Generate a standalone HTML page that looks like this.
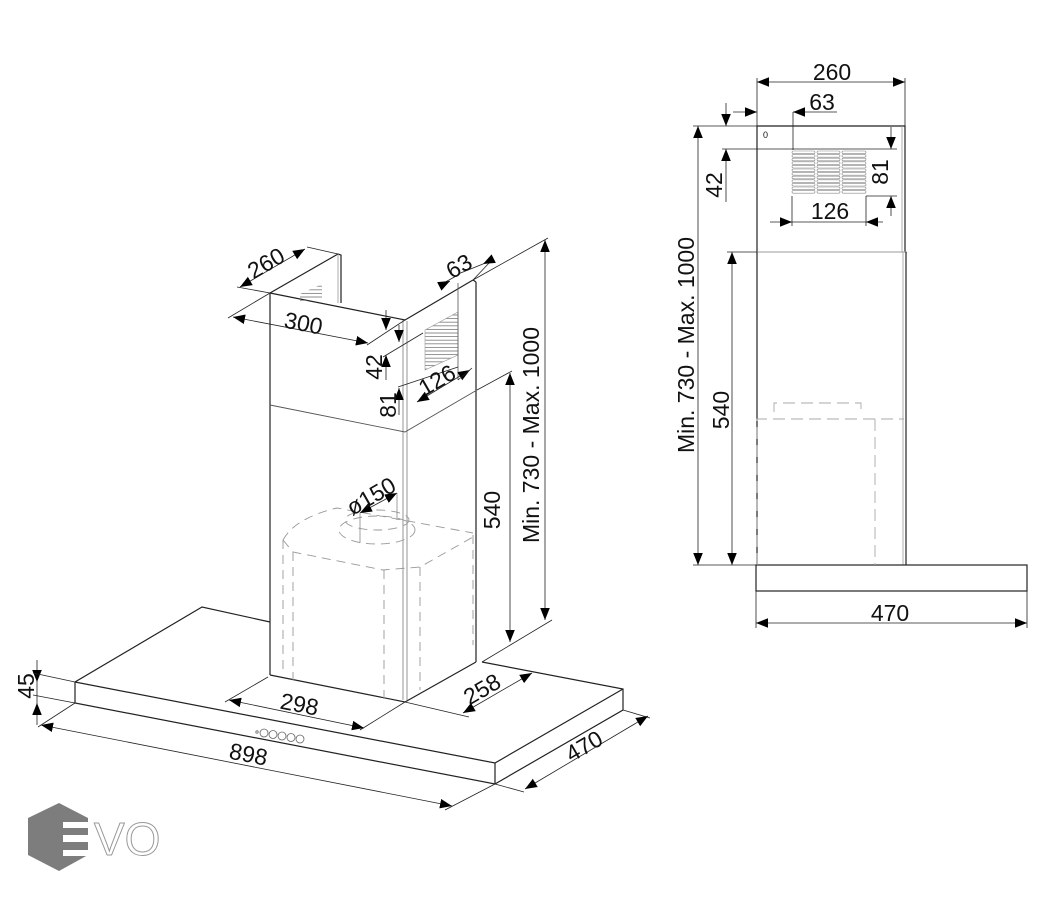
<!DOCTYPE html>
<html><head><meta charset="utf-8"><style>
html,body{margin:0;padding:0;background:#fff;}
svg{display:block}
text{font-family:"Liberation Sans",sans-serif;fill:#111;}
</style></head><body>
<svg width="1054" height="900" viewBox="0 0 1054 900" xmlns="http://www.w3.org/2000/svg">
<defs>
<marker id="a" viewBox="0 0 10 10" refX="10" refY="5" markerWidth="12" markerHeight="12" markerUnits="userSpaceOnUse" orient="auto-start-reverse"><path d="M0,1 L10,5 L0,9 z" fill="#000"/></marker>
<pattern id="g" width="4" height="3.6" patternUnits="userSpaceOnUse"><line x1="0" y1="1.8" x2="4" y2="1.8" stroke="#777" stroke-width="0.8"/></pattern>
</defs>

<g fill="none" stroke="#222" stroke-width="1.2">
<path d="M270,293 L338,254 L341,255 L341,303"/>
<line x1="338" y1="254" x2="338" y2="303" stroke="#999" stroke-width="0.8"/>
<path d="M270,293 L405,320 L473,280"/>
<line x1="473" y1="280" x2="476" y2="282" />
<line x1="270" y1="293" x2="270" y2="675"/>
<line x1="476" y1="282" x2="476" y2="662"/>
<line x1="403" y1="320" x2="403" y2="700" stroke="#888" stroke-width="0.9"/>
<line x1="407" y1="321" x2="407" y2="700" stroke="#888" stroke-width="0.9"/>
<path d="M270,405 L405,432 L477,390" stroke="#555" stroke-width="0.9"/>
<path d="M270,675 L405,702 L476,662"/>
<path d="M270,622 L202,607 L75,682 L75,703 L495,784 L623,710 L623,689 L482,662"/>
<path d="M75,682 L495,763 L623,689"/>
<line x1="495" y1="763" x2="495" y2="784"/>
</g>
<path d="M300,294 L322,284 L322,299 L300,301 z" fill="url(#g)"/>
<path d="M425,330 L458,312 L458,355 L425,370 z" fill="url(#g)" stroke="#999" stroke-width="0.6"/>
<line x1="458" y1="283" x2="458" y2="380" stroke="#555" stroke-width="0.8"/>
<g fill="none" stroke="#666" stroke-width="0.8">
<circle cx="257" cy="732" r="1.2"/><circle cx="264" cy="733" r="4"/><circle cx="273" cy="734.5" r="4"/><circle cx="282" cy="736" r="4"/><circle cx="291" cy="737.5" r="4"/><circle cx="300" cy="739" r="4"/>
</g>
<g fill="none" stroke="#999" stroke-width="0.9" stroke-dasharray="9,6">
<path d="M283,540 L283,672"/><path d="M293,552 L293,680"/><path d="M384,570 L384,700"/><path d="M420,567 L420,690"/><path d="M473,535 L473,645"/>
<path d="M283,540 Q295,518 337,508 L473,533"/>
<path d="M283,540 L293,552 L383,570 L420,567 L473,537"/>
<ellipse cx="377" cy="530" rx="38" ry="14"/>
<ellipse cx="377" cy="520" rx="32" ry="10"/>
</g>
<g stroke="#222" stroke-width="0.8" fill="none">
<line x1="237" y1="287" x2="270" y2="293"/><line x1="307" y1="247" x2="338" y2="254"/>
<line x1="240" y1="287" x2="305" y2="249" marker-start="url(#a)" marker-end="url(#a)"/>
<line x1="228" y1="318" x2="270" y2="293"/><line x1="367" y1="345" x2="405" y2="320"/>
<line x1="233" y1="317" x2="368" y2="343" marker-start="url(#a)" marker-end="url(#a)"/>
<line x1="440" y1="285" x2="458" y2="275" /><line x1="473" y1="280" x2="490" y2="262"/>
<line x1="440" y1="286" x2="450" y2="281" marker-end="url(#a)"/>
<line x1="493" y1="259" x2="483" y2="264" marker-end="url(#a)"/>
<line x1="458" y1="274" x2="483" y2="264"/>
<line x1="386" y1="310" x2="386" y2="330" marker-end="url(#a)"/>
<line x1="386" y1="380" x2="386" y2="355" marker-end="url(#a)"/>
<line x1="383" y1="357" x2="423" y2="333"/>
<line x1="399" y1="325" x2="399" y2="342" marker-end="url(#a)"/>
<line x1="399" y1="415" x2="399" y2="388" marker-end="url(#a)"/>
<line x1="398" y1="387" x2="458" y2="367"/>
<line x1="417" y1="402" x2="470" y2="370" marker-start="url(#a)" marker-end="url(#a)"/>
<line x1="458" y1="380" x2="472" y2="368"/>
<line x1="473" y1="280" x2="548" y2="238"/>
<line x1="545" y1="240" x2="545" y2="620" marker-start="url(#a)" marker-end="url(#a)"/>
<line x1="482" y1="662" x2="552" y2="620"/>
<line x1="477" y1="390" x2="512" y2="371"/>
<line x1="510" y1="373" x2="510" y2="642" marker-start="url(#a)" marker-end="url(#a)"/>
<line x1="360" y1="513" x2="397" y2="493" marker-start="url(#a)" marker-end="url(#a)"/>
<line x1="360" y1="513" x2="360" y2="543" stroke="#888"/>
<line x1="397" y1="493" x2="397" y2="520" stroke="#888"/>
<line x1="268" y1="677" x2="225" y2="702"/><line x1="405" y1="702" x2="360" y2="730"/>
<line x1="229" y1="700" x2="364" y2="728" marker-start="url(#a)" marker-end="url(#a)"/>
<line x1="405" y1="702" x2="469" y2="717"/>
<line x1="532" y1="673" x2="463" y2="713" marker-start="url(#a)" marker-end="url(#a)"/>
<line x1="37" y1="660" x2="37" y2="682" marker-end="url(#a)"/>
<line x1="37" y1="725" x2="37" y2="703" marker-end="url(#a)"/>
<line x1="37" y1="682" x2="37" y2="703"/>
<line x1="33" y1="673" x2="75" y2="682"/><line x1="33" y1="695" x2="75" y2="703"/>
<line x1="75" y1="703" x2="38" y2="727"/><line x1="495" y1="784" x2="445" y2="810"/>
<line x1="41" y1="725" x2="452" y2="806" marker-start="url(#a)" marker-end="url(#a)"/>
<line x1="623" y1="710" x2="650" y2="718"/><line x1="495" y1="784" x2="524" y2="792"/>
<line x1="648" y1="716" x2="525" y2="789" marker-start="url(#a)" marker-end="url(#a)"/>
</g>
<g font-size="23">
<text transform="translate(270,270) rotate(-30)" text-anchor="middle">260</text>
<text transform="translate(302,331) rotate(11)" text-anchor="middle">300</text>
<text transform="translate(463,273) rotate(-30)" text-anchor="middle">63</text>
<text transform="translate(382,367) rotate(-90)" text-anchor="middle">42</text>
<text transform="translate(396,405) rotate(-90)" text-anchor="middle">81</text>
<text transform="translate(441,387) rotate(-30)" text-anchor="middle">126</text>
<text transform="translate(500,510) rotate(-90)" text-anchor="middle">540</text>
<text transform="translate(539,435) rotate(-90)" text-anchor="middle">Min.  730 - Max.  1000</text>
<text transform="translate(375,503) rotate(-30)" text-anchor="middle">ø150</text>
<text transform="translate(298,712) rotate(11)" text-anchor="middle">298</text>
<text transform="translate(486,696) rotate(-30)" text-anchor="middle">258</text>
<text transform="translate(34,686) rotate(-90)" text-anchor="middle">45</text>
<text transform="translate(247,762) rotate(11)" text-anchor="middle">898</text>
<text transform="translate(588,753) rotate(-30)" text-anchor="middle">470</text>
</g>

<g fill="none" stroke="#222" stroke-width="1.2">
<path d="M757,252 L757,126 L905,126 L905,252"/>
<line x1="902" y1="126" x2="902" y2="252" stroke="#999" stroke-width="0.8"/>
<line x1="757" y1="252" x2="907" y2="252" stroke="#999" stroke-width="0.9"/>
<line x1="757" y1="252" x2="757" y2="565"/>
<line x1="906" y1="252" x2="906" y2="565"/>
<line x1="903" y1="252" x2="903" y2="565" stroke="#999" stroke-width="0.8"/>
<rect x="756" y="565" width="271" height="26"/>
</g>
<text x="763" y="138" font-size="9" fill="#999">0</text>
<g fill="none" stroke="#888" stroke-width="0.6">
<rect x="792" y="151" width="23" height="2.6" rx="1.3"/><rect x="817" y="151" width="23" height="2.6" rx="1.3"/><rect x="842" y="151" width="24" height="2.6" rx="1.3"/>
<rect x="792" y="154.6" width="23" height="2.6" rx="1.3"/><rect x="817" y="154.6" width="23" height="2.6" rx="1.3"/><rect x="842" y="154.6" width="24" height="2.6" rx="1.3"/>
<rect x="792" y="158.2" width="23" height="2.6" rx="1.3"/><rect x="817" y="158.2" width="23" height="2.6" rx="1.3"/><rect x="842" y="158.2" width="24" height="2.6" rx="1.3"/>
<rect x="792" y="161.8" width="23" height="2.6" rx="1.3"/><rect x="817" y="161.8" width="23" height="2.6" rx="1.3"/><rect x="842" y="161.8" width="24" height="2.6" rx="1.3"/>
<rect x="792" y="165.4" width="23" height="2.6" rx="1.3"/><rect x="817" y="165.4" width="23" height="2.6" rx="1.3"/><rect x="842" y="165.4" width="24" height="2.6" rx="1.3"/>
<rect x="792" y="169" width="23" height="2.6" rx="1.3"/><rect x="817" y="169" width="23" height="2.6" rx="1.3"/><rect x="842" y="169" width="24" height="2.6" rx="1.3"/>
<rect x="792" y="172.6" width="23" height="2.6" rx="1.3"/><rect x="817" y="172.6" width="23" height="2.6" rx="1.3"/><rect x="842" y="172.6" width="24" height="2.6" rx="1.3"/>
<rect x="792" y="176.2" width="23" height="2.6" rx="1.3"/><rect x="817" y="176.2" width="23" height="2.6" rx="1.3"/><rect x="842" y="176.2" width="24" height="2.6" rx="1.3"/>
<rect x="792" y="179.8" width="23" height="2.6" rx="1.3"/><rect x="817" y="179.8" width="23" height="2.6" rx="1.3"/><rect x="842" y="179.8" width="24" height="2.6" rx="1.3"/>
<rect x="792" y="183.4" width="23" height="2.6" rx="1.3"/><rect x="817" y="183.4" width="23" height="2.6" rx="1.3"/><rect x="842" y="183.4" width="24" height="2.6" rx="1.3"/>
<rect x="792" y="187" width="23" height="2.6" rx="1.3"/><rect x="817" y="187" width="23" height="2.6" rx="1.3"/><rect x="842" y="187" width="24" height="2.6" rx="1.3"/>
<rect x="792" y="190.6" width="23" height="2.6" rx="1.3"/><rect x="817" y="190.6" width="23" height="2.6" rx="1.3"/><rect x="842" y="190.6" width="24" height="2.6" rx="1.3"/>
</g>
<g fill="none" stroke="#aaa" stroke-width="0.9" stroke-dasharray="12,6">
<path d="M757,565 L757,419 L904,419"/>
<path d="M875,419 L875,565"/>
<path d="M774,412 L774,403 L861,403 L861,412"/>
</g>
<g stroke="#222" stroke-width="0.8" fill="none">
<line x1="757" y1="78" x2="757" y2="126"/><line x1="905" y1="78" x2="905" y2="126"/>
<line x1="757" y1="82" x2="905" y2="82" marker-start="url(#a)" marker-end="url(#a)"/>
<line x1="733" y1="112" x2="757" y2="112" marker-end="url(#a)"/>
<line x1="837" y1="112" x2="793" y2="112" marker-end="url(#a)"/>
<line x1="793" y1="112" x2="793" y2="150"/>
<line x1="726" y1="103" x2="726" y2="126" marker-end="url(#a)"/>
<line x1="726" y1="202" x2="726" y2="149" marker-end="url(#a)"/>
<line x1="693" y1="126" x2="757" y2="126"/>
<line x1="722" y1="149" x2="897" y2="149"/>
<line x1="698" y1="126" x2="698" y2="565" marker-start="url(#a)" marker-end="url(#a)"/>
<line x1="732" y1="252" x2="732" y2="565" marker-start="url(#a)" marker-end="url(#a)"/>
<line x1="727" y1="252" x2="757" y2="252"/>
<line x1="693" y1="565" x2="757" y2="565"/>
<line x1="891" y1="127" x2="891" y2="149" marker-end="url(#a)"/>
<line x1="891" y1="216" x2="891" y2="196" marker-end="url(#a)"/>
<line x1="866" y1="196" x2="897" y2="196"/>
<line x1="792" y1="196" x2="792" y2="226"/><line x1="866" y1="196" x2="866" y2="226"/>
<line x1="770" y1="222" x2="792" y2="222" marker-end="url(#a)"/>
<line x1="883" y1="222" x2="866" y2="222" marker-end="url(#a)"/>
<line x1="792" y1="222" x2="866" y2="222"/>
<line x1="756" y1="591" x2="756" y2="628"/><line x1="1027" y1="591" x2="1027" y2="628"/>
<line x1="756" y1="623" x2="1027" y2="623" marker-start="url(#a)" marker-end="url(#a)"/>
</g>
<g font-size="23">
<text x="832" y="80" text-anchor="middle">260</text>
<text x="822" y="110" text-anchor="middle">63</text>
<text transform="translate(722,185) rotate(-90)" text-anchor="middle">42</text>
<text transform="translate(888,172) rotate(-90)" text-anchor="middle">81</text>
<text x="830" y="219" text-anchor="middle">126</text>
<text transform="translate(694,345) rotate(-90)" text-anchor="middle">Min.  730 - Max.  1000</text>
<text transform="translate(729,410) rotate(-90)" text-anchor="middle">540</text>
<text x="890" y="621" text-anchor="middle">470</text>
</g>

<path d="M59,803 L88,818 L88,855 L59,871 L28,855 L28,818 z" fill="#7d7d7d"/>
<g fill="#fff">
<rect x="63" y="822" width="30" height="6"/>
<rect x="63" y="835" width="30" height="7"/>
<rect x="63" y="850" width="30" height="6"/>
</g>
<text x="94" y="855" font-size="46" style="fill:#fff;stroke:#999;stroke-width:1">VO</text>
</svg>
</body></html>
